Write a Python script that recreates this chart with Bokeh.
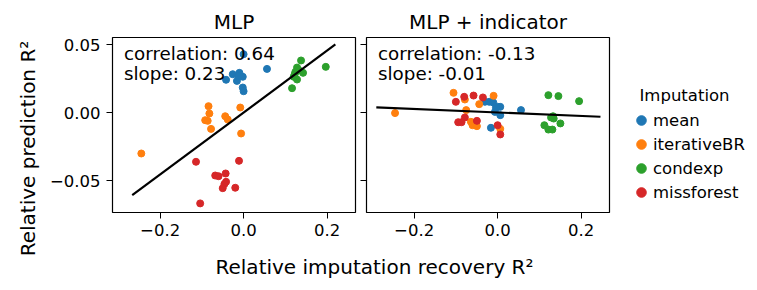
import math
from bokeh.plotting import figure
from bokeh.models import (Label, Legend, LegendItem, FixedTicker, CustomJSTickFormatter, Range1d)
from bokeh.layouts import column, row
from bokeh.embed import file_html
from bokeh.resources import INLINE

FONT = "DejaVu Sans"

methods = ["mean", "iterativeBR", "condexp", "missforest"]
colors = ["#1f77b4", "#ff7f0e", "#2ca02c", "#d62728"]
panel_titles = ["MLP", "MLP + indicator"]
stat_texts = [["correlation: 0.64", "slope: 0.23"], ["correlation: -0.13", "slope: -0.01"]]
y_label = "Relative prediction R²"
x_label = "Relative imputation recovery R²"
legend_title = "Imputation"

x_ticks = [-0.2, 0.0, 0.2]
y_ticks = [-0.05, 0.0, 0.05]

# ---- Panel 1: MLP ----
mlp_mean_x = [0.000, 0.056, -0.042, -0.026, -0.010, -0.016, -0.002, -0.002, 0.000, -0.012]
mlp_mean_y = [0.0431, 0.0323, 0.0243, 0.0284, 0.0294, 0.0235, 0.0265, 0.0186, 0.0159, 0.0270]
mlp_iter_x = [-0.084, -0.082, -0.008, -0.044, -0.038, -0.092, -0.086, -0.078, -0.006, -0.245]
mlp_iter_y = [0.0049, -0.0005, 0.0039, -0.0025, -0.0049, -0.0054, -0.0059, -0.0118, -0.0152, -0.0299]
mlp_cond_x = [0.1376, 0.1968, 0.128, 0.124, 0.1424, 0.120, 0.128, 0.116, 0.132, 0.1224]
mlp_cond_y = [0.0385, 0.0338, 0.0333, 0.0301, 0.0294, 0.0265, 0.0245, 0.0181, 0.0314, 0.0284]
mlp_miss_x = [-0.114, -0.011, -0.068, -0.060, -0.043, -0.042, -0.046, -0.050, -0.020, -0.104]
mlp_miss_y = [-0.0360, -0.0353, -0.0461, -0.0466, -0.0446, -0.0507, -0.0524, -0.0554, -0.0551, -0.0666]
mlp_fit_x = [-0.2667, 0.2198]
mlp_fit_y = [-0.0605, 0.0503]

# ---- Panel 2: MLP + indicator ----
ind_mean_x = [-0.0304, -0.020, -0.0104, 0.000, 0.0064, -0.0064, 0.0064, 0.056, -0.016, -0.004]
ind_mean_y = [0.0081, 0.0081, 0.0076, 0.0044, 0.0044, 0.0007, -0.0017, 0.0020, -0.0110, 0.0039]
ind_iter_x = [-0.2456, -0.1056, -0.0096, -0.0784, -0.044, -0.0752, -0.064, -0.060, -0.0496, 0.0064]
ind_iter_y = [-0.0002, 0.0147, 0.0125, 0.0098, 0.0064, 0.0020, -0.0066, -0.0091, -0.0098, -0.0118]
ind_cond_x = [0.1216, 0.1456, 0.1952, 0.1328, 0.1344, 0.112, 0.1504, 0.1216, 0.1312, 0.128]
ind_cond_y = [0.0130, 0.0123, 0.0086, -0.0025, -0.0042, -0.0091, -0.0078, -0.0123, -0.0123, -0.0034]
ind_miss_x = [-0.100, -0.080, -0.0576, -0.0352, -0.0784, -0.0944, -0.0864, -0.0496, 0.000, 0.0064]
ind_miss_y = [0.0081, 0.0118, 0.0127, 0.0113, -0.0034, -0.0069, -0.0069, -0.0059, -0.0091, -0.0159]
ind_fit_x = [-0.2905, 0.2463]
ind_fit_y = [0.0040, -0.0029]

panels = [
    ([(mlp_mean_x, mlp_mean_y), (mlp_iter_x, mlp_iter_y), (mlp_cond_x, mlp_cond_y), (mlp_miss_x, mlp_miss_y)],
     (mlp_fit_x, mlp_fit_y)),
    ([(ind_mean_x, ind_mean_y), (ind_iter_x, ind_iter_y), (ind_cond_x, ind_cond_y), (ind_miss_x, ind_miss_y)],
     (ind_fit_x, ind_fit_y)),
]

X_RANGE = (-0.314, 0.268)
Y_RANGE = (-0.0733, 0.0554)
FW, FH = 243, 175
TOP_B, BOT_B = 2, 40
ROW_H = TOP_B + FH + BOT_B

xfmt = CustomJSTickFormatter(code="return (tick < -1e-9 ? '\u2212' : '') + Math.abs(tick).toFixed(1);")
yfmt = CustomJSTickFormatter(code="return (tick < -1e-9 ? '\u2212' : '') + Math.abs(tick).toFixed(2);")
nofmt = CustomJSTickFormatter(code="return '';")


def strip(w, h, rng=(0, 1)):
    s = figure(width=w, height=h, output_backend="svg", toolbar_location=None,
               x_range=Range1d(*rng), y_range=Range1d(*rng),
               min_border=0, x_axis_type=None, y_axis_type=None)
    s.grid.visible = False
    s.outline_line_color = None
    s.background_fill_color = "white"
    s.border_fill_color = "white"
    return s


def make_panel(i, left_border, right_border):
    p = figure(frame_width=FW, frame_height=FH, output_backend="svg", toolbar_location=None,
               x_range=Range1d(*X_RANGE), y_range=Range1d(*Y_RANGE),
               min_border_left=left_border, min_border_right=right_border,
               min_border_top=TOP_B, min_border_bottom=BOT_B)
    p.grid.visible = False
    p.outline_line_color = "black"
    p.outline_line_width = 1.2
    p.background_fill_color = "white"
    p.border_fill_color = "white"
    for ax, ticks in ((p.xaxis, x_ticks), (p.yaxis, y_ticks)):
        ax.ticker = FixedTicker(ticks=ticks)
        ax.minor_tick_line_color = None
        ax.major_tick_in = 0
        ax.major_tick_out = 6
        ax.major_tick_line_color = "black"
        ax.major_tick_line_width = 1
        ax.axis_line_color = None
        ax.major_label_text_font = FONT
        ax.major_label_text_font_size = "16.5px"
        ax.major_label_text_color = "black"
    p.xaxis.formatter = xfmt
    p.xaxis.major_label_standoff = 5
    if i == 0:
        p.yaxis.formatter = yfmt
        p.yaxis.major_label_standoff = 6
    else:
        p.yaxis.formatter = nofmt
        p.yaxis.major_label_standoff = 0

    series, (fx, fy) = panels[i]
    for (xs, ys), c in zip(series, colors):
        p.scatter(xs, ys, size=7, color=c, line_color=c)
    p.line(fx, fy, line_color="black", line_width=2.2)

    for j, t in enumerate(stat_texts[i]):
        p.add_layout(Label(x=11.5, y=FH - 15.5 - 20.5 * j, x_units="screen", y_units="screen",
                           text=t, text_font=FONT, text_font_size="18.3px",
                           text_baseline="middle", text_align="left", text_color="black"))
    return p


LEFT_W = 40
p1 = make_panel(0, 72, 5)      # canvas 40..360, frame 112..355
p2 = make_panel(1, 6, 4)       # canvas 360..613, frame 366..609

# titles strip
top = strip(717, 35)
for cx, t in zip([193.5, 447.5], panel_titles):
    top.add_layout(Label(x=cx, y=14, x_units="screen", y_units="screen", text=t,
                         text_font=FONT, text_font_size="20px", text_align="center",
                         text_baseline="middle", text_color="black"))

# y label strip
left = strip(LEFT_W, 35 + ROW_H + 36)
left.add_layout(Label(x=27, y=35 + ROW_H + 36 - 148, x_units="screen", y_units="screen",
                      text=y_label, angle=math.pi / 2, text_font=FONT, text_font_size="20px",
                      text_align="center", text_baseline="middle", text_color="black"))

# legend strip (its frame is aligned with the panels' frames: 37..212)
# legend proxies use the panel data but lie outside this strip's view
leg = strip(140, ROW_H, rng=(10, 11))
items = []
for m, c, (xs, ys) in zip(methods, colors, panels[0][0]):
    r = leg.scatter(xs, ys, size=10, color=c, line_color=c)
    items.append(LegendItem(label=m, renderers=[r]))
legend = Legend(items=items, location=(16, 8),
                label_text_font=FONT, label_text_font_size="16.5px", label_text_color="black",
                glyph_width=24, glyph_height=24, label_height=20, label_standoff=-3,
                spacing=0, padding=0, margin=0, border_line_color=None,
                background_fill_alpha=0)
leg.add_layout(legend, "center")
leg.add_layout(Label(x=71, y=212 - 95, x_units="screen", y_units="screen",
                     text=legend_title, text_font=FONT, text_font_size="16.5px",
                     text_align="center", text_baseline="middle", text_color="black"))

# x label strip
bottom = strip(717, 36)
bottom.add_layout(Label(x=334, y=22, x_units="screen", y_units="screen",
                        text=x_label, text_font=FONT, text_font_size="20px",
                        text_align="center", text_baseline="middle", text_color="black"))

layout = row(left, column(top, row(p1, p2, leg), bottom))
open("out.html", "w").write(file_html(layout, INLINE))
